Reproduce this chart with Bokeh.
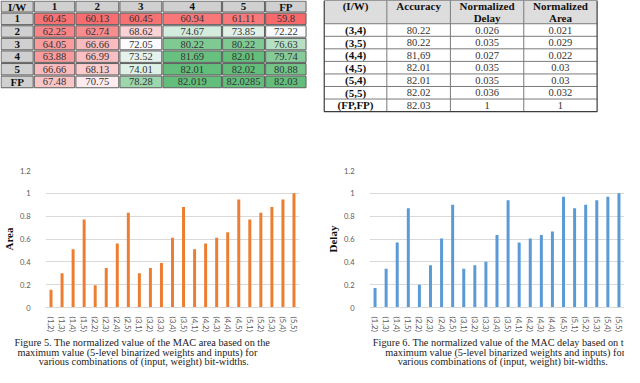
import math
from bokeh.plotting import figure
from bokeh.layouts import column, row
from bokeh.models import Range1d, FactorRange, FixedTicker, NumeralTickFormatter
from bokeh.embed import file_html
from bokeh.resources import INLINE
from bokeh.core.properties import value

# ---------------- data ----------------
t1_corner = "I/W"
t1_cols = ["1", "2", "3", "4", "5", "FP"]
t1_rows = ["1", "2", "3", "4", "5", "FP"]
t1_vals = [
    ["60.45", "60.13", "60.45", "60.94", "61.11", "59.8"],
    ["62.25", "62.74", "68.62", "74.67", "73.85", "72.22"],
    ["64.05", "66.66", "72.05", "80.22", "80.22", "76.63"],
    ["63.88", "66.99", "73.52", "81.69", "82.01", "79.74"],
    ["66.66", "68.13", "74.01", "82.01", "82.02", "80.88"],
    ["67.48", "70.75", "78.28", "82.019", "82.0285", "82.03"],
]

t2_header = [["(I/W)"], ["Accuracy"], ["Normalized", "Delay"], ["Normalized", "Area"]]
t2_rows = ["(3,4)", "(3,5)", "(4,4)", "(4,5)", "(5,4)", "(5,5)", "(FP,FP)"]
t2_acc = ["80.22", "80.22", "81,69", "82.01", "82.01", "82.02", "82.03"]
t2_delay = ["0.026", "0.035", "0.027", "0.035", "0.035", "0.036", "1"]
t2_area = ["0.021", "0.029", "0.022", "0.03", "0.03", "0.032", "1"]

bar_cats = ["(1,2)", "(1,3)", "(1,4)", "(1,5)", "(2,2)", "(2,3)", "(2,4)", "(2,5)",
            "(3,1)", "(3,2)", "(3,3)", "(3,4)", "(3,5)", "(4,1)", "(4,2)", "(4,3)",
            "(4,4)", "(4,5)", "(5,1)", "(5,2)", "(5,3)", "(5,4)", "(5,5)"]
area_vals = [0.155, 0.30, 0.51, 0.77, 0.195, 0.345, 0.56, 0.83, 0.30, 0.345, 0.39, 0.61,
             0.88, 0.51, 0.56, 0.61, 0.66, 0.945, 0.77, 0.83, 0.88, 0.945, 1.0]
delay_vals = [0.17, 0.34, 0.57, 0.87, 0.20, 0.37, 0.605, 0.90, 0.34, 0.37, 0.40, 0.635,
              0.94, 0.57, 0.605, 0.635, 0.665, 0.97, 0.87, 0.90, 0.94, 0.97, 1.0]
y_ticks = [0, 0.2, 0.4, 0.6, 0.8, 1.0, 1.2]

cap1 = ["Figure 5. The normalized value of the MAC area based on the",
        "maximum value (5-level binarized weights and inputs) for",
        "various combinations of (input, weight) bit-widths."]
cap2 = ["Figure 6. The normalized value of the MAC delay based on the",
        "maximum value (5-level binarized weights and inputs) for",
        "various combinations of (input, weight) bit-widths."]

# ---------------- layout constants ----------------
W, H = 624, 367
SX = 624 / 638.0
SY = 367 / 379.0
TOP_H, CH_H, CAP_H = 150, 185, 32
SERIF = value("Liberation Serif")
SANS = value("Lato")


def blank(width, height, y0):
    span = height / SY
    p = figure(width=width, height=height, x_range=Range1d(2, 640),
               y_range=Range1d(y0 + span, y0), output_backend="svg",
               toolbar_location=None, x_axis_location=None, y_axis_location=None,
               min_border=0, outline_line_color=None)
    p.grid.visible = False
    return p


# ---------------- tables ----------------
top = blank(W, TOP_H, 2)

t1_xe = [2, 36, 78.5, 123.5, 167.5, 228.5, 272.5, 315]
t1_ye = [2, 14.5, 27.5, 40.5, 53.5, 66.5, 79.5, 92.7]

nums = [float(v) for r in t1_vals for v in r]
vmin, vmax, vmid = min(nums), max(nums), 72.1
RED, WHITE, GREEN = (248, 105, 107), (252, 252, 255), (99, 190, 123)


def mix(a, b, t):
    t = max(0.0, min(1.0, t))
    return "#%02x%02x%02x" % tuple(int(round(a[i] + (b[i] - a[i]) * t)) for i in range(3))


def cscale(v):
    if v <= vmid:
        return mix(RED, WHITE, (v - vmin) / (vmid - vmin))
    return mix(WHITE, GREEN, (v - vmid) / (vmax - vmid))


L, R, T, B, F = [], [], [], [], []
tx, ty, tt, tb = [], [], [], []
gap = 0.6
for ri in range(7):
    for ci in range(7):
        L.append(t1_xe[ci] + gap); R.append(t1_xe[ci + 1] - gap)
        T.append(t1_ye[ri] + gap); B.append(t1_ye[ri + 1] - gap)
        cx = (t1_xe[ci] + t1_xe[ci + 1]) / 2
        cy = (t1_ye[ri] + t1_ye[ri + 1]) / 2
        if ri == 0 and ci == 0:
            F.append("#d0d0d0"); tb.append((cx, cy, t1_corner))
        elif ri == 0:
            F.append("#d0d0d0"); tb.append((cx, cy, t1_cols[ci - 1]))
        elif ci == 0:
            F.append("#d0d0d0"); tb.append((cx, cy, t1_rows[ri - 1]))
        else:
            s = t1_vals[ri - 1][ci - 1]
            F.append(cscale(float(s)))
            tx.append(cx); ty.append(cy); tt.append(s)
top.quad(left=L, right=R, top=T, bottom=B, fill_color=F, line_color="#5f5f5f", line_width=1)
top.text(x=tx, y=ty, text=tt, text_font=SERIF, text_font_size="10.5px",
         text_color="#333333", text_align="center", text_baseline="middle")
top.text(x=[a[0] for a in tb], y=[a[1] for a in tb], text=[a[2] for a in tb],
         text_font=SERIF, text_font_size="11px", text_font_style="bold",
         text_color="#111111", text_align="center", text_baseline="middle")

t2_xe = [333, 397, 462, 537, 612]
t2_ye = [2, 26] + [26 + 12.96 * (i + 1) for i in range(7)]
top.quad(left=t2_xe[0], right=t2_xe[-1], top=t2_ye[0], bottom=t2_ye[1],
         fill_color="#dddddd", line_color=None)
for xv in t2_xe[1:-1]:
    top.segment(x0=xv, y0=t2_ye[0], x1=xv, y1=t2_ye[-1], line_color="#7a7a7a", line_width=1)
for yv in t2_ye[1:-1]:
    top.segment(x0=t2_xe[0], y0=yv, x1=t2_xe[-1], y1=yv, line_color="#7a7a7a", line_width=1)
top.quad(left=t2_xe[0], right=t2_xe[-1], top=t2_ye[0], bottom=t2_ye[-1],
         fill_color=None, line_color="#3c3c3c", line_width=1.2)

hx, hy, ht = [], [], []
for ci, lines in enumerate(t2_header):
    cx = (t2_xe[ci] + t2_xe[ci + 1]) / 2
    for li, s in enumerate(lines):
        hx.append(cx); hy.append(8 + 12.5 * li); ht.append(s)
top.text(x=hx, y=hy, text=ht, text_font=SERIF, text_font_size="11px", text_font_style="bold",
         text_color="#111111", text_align="center", text_baseline="middle")
rcy = [(t2_ye[i + 1] + t2_ye[i + 2]) / 2 for i in range(7)]
top.text(x=[(t2_xe[0] + t2_xe[1]) / 2] * 7, y=rcy, text=t2_rows, text_font=SERIF,
         text_font_size="11px", text_font_style="bold", text_color="#111111",
         text_align="center", text_baseline="middle")
for ci, col in enumerate([t2_acc, t2_delay, t2_area]):
    top.text(x=[(t2_xe[ci + 1] + t2_xe[ci + 2]) / 2] * 7, y=rcy, text=col, text_font=SERIF,
             text_font_size="10.5px", text_color="#333333", text_align="center",
             text_baseline="middle")


# ---------------- bar charts ----------------
def bar_chart(width, bl, br, vals, color, label):
    p = figure(width=width, height=CH_H, x_range=FactorRange(*bar_cats, range_padding=0),
               y_range=Range1d(0, 1.2), output_backend="svg", toolbar_location=None,
               min_border_left=bl, min_border_right=br, min_border_top=20,
               min_border_bottom=28, outline_line_color=None)
    p.vbar(x=bar_cats, top=vals, width=0.27, fill_color=color, line_color=None)
    p.xgrid.visible = False
    p.ygrid.grid_line_color = "#d9d9d9"
    p.yaxis.ticker = FixedTicker(ticks=y_ticks)
    p.yaxis.formatter = NumeralTickFormatter(format="0.[0]")
    p.yaxis.axis_line_color = None
    p.yaxis.major_tick_line_color = None
    p.yaxis.minor_tick_line_color = None
    p.yaxis.major_label_standoff = 9
    p.yaxis.major_label_text_font = "Lato"
    p.yaxis.major_label_text_font_size = "7.5px"
    p.yaxis.major_label_text_color = "#595959"
    p.yaxis.axis_label = label
    p.yaxis.axis_label_text_font = "Liberation Serif"
    p.yaxis.axis_label_text_font_style = "bold"
    p.yaxis.axis_label_text_font_size = "11px"
    p.yaxis.axis_label_text_color = "#111111"
    p.yaxis.axis_label_standoff = 2
    p.xaxis.axis_line_color = "#d9d9d9"
    p.xaxis.major_tick_line_color = None
    p.xaxis.major_label_orientation = "vertical"
    p.xaxis.major_label_standoff = 3
    p.xaxis.major_label_text_font = "Lato"
    p.xaxis.major_label_text_font_size = "8px"
    p.xaxis.major_label_text_color = "#595959"
    return p


c1 = bar_chart(320, 42, 21, area_vals, "#ED7D31", "Area")
c2 = bar_chart(304, 49, 0, delay_vals, "#5B9BD5", "Delay")

# ---------------- captions ----------------
cap = blank(W, CAP_H, 2 + (TOP_H + CH_H) / SY)
cap_y = [355.5, 365, 374.5]
cap.text(x=[147, 142, 148.5], y=cap_y, text=cap1, text_font=SERIF, text_font_size="10.3px",
         text_color="#222222", text_align="center", text_baseline="middle")
cap.text(x=[516, 518, 515.5], y=cap_y, text=cap2, text_font=SERIF, text_font_size="10.3px",
         text_color="#222222", text_align="center", text_baseline="middle")

layout = column(top, row(c1, c2), cap)
open("out.html", "w").write(file_html(layout, INLINE))
